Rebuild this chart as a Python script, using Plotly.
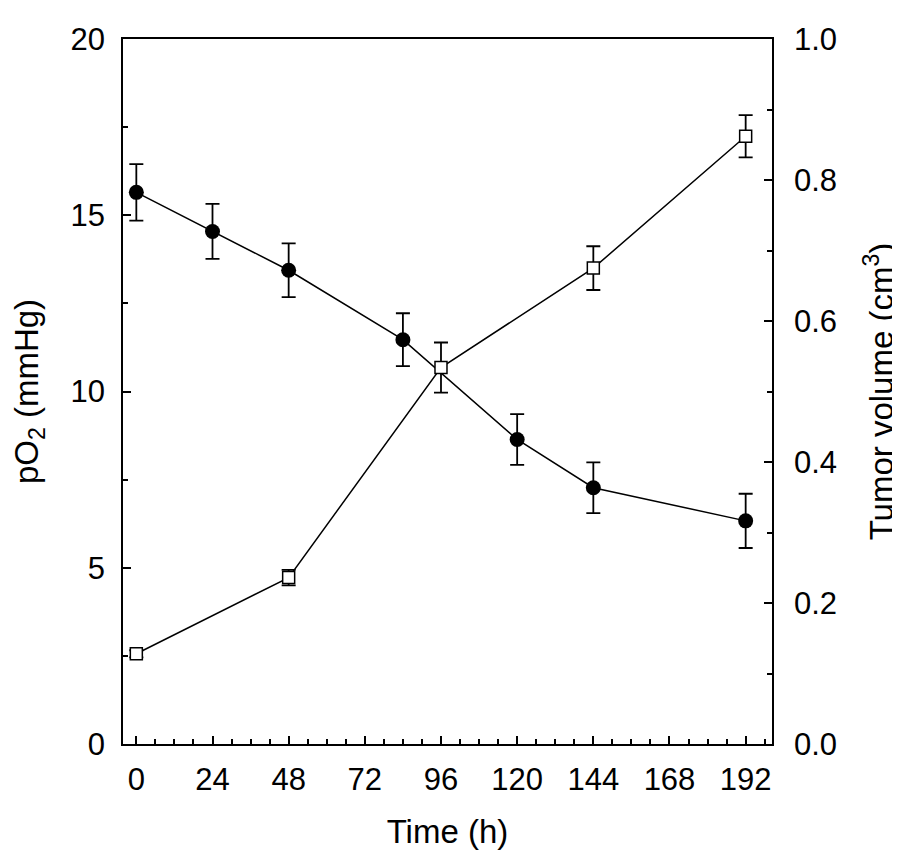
import plotly.graph_objects as go

# Time points (h)
time_po2 = [0, 24, 48, 84, 120, 144, 192]
po2 = [15.65, 14.54, 13.44, 11.47, 8.64, 7.27, 6.33]
po2_err = [0.80, 0.78, 0.76, 0.75, 0.72, 0.72, 0.77]

time_vol = [0, 48, 96, 144, 192]
volume = [0.128, 0.236, 0.534, 0.675, 0.862]
volume_err = [0.005, 0.011, 0.0355, 0.031, 0.030]

x_ticks = [0, 24, 48, 72, 96, 120, 144, 168, 192]

FONT = "Liberation Sans, Arial, sans-serif"

fig = go.Figure()

fig.add_trace(go.Scatter(
    x=time_po2, y=po2, mode="lines+markers", name="pO2",
    line=dict(color="black", width=1.5),
    marker=dict(symbol="circle", size=15, color="black"),
    error_y=dict(type="data", array=po2_err, color="black", thickness=1.8, width=7),
    yaxis="y", showlegend=False,
))

fig.add_trace(go.Scatter(
    x=time_vol, y=volume, mode="lines+markers", name="Tumor volume",
    line=dict(color="black", width=1.5),
    marker=dict(symbol="square", size=12, color="white", line=dict(color="black", width=1.5)),
    error_y=dict(type="data", array=volume_err, color="black", thickness=1.8, width=7),
    yaxis="y2", showlegend=False,
))

axis_common = dict(
    showgrid=False, zeroline=False, showline=True, linecolor="black", linewidth=1.5,
    ticks="inside", tickcolor="black", tickwidth=1.8, ticklen=8,
    tickfont=dict(family=FONT, size=31, color="black"),
    automargin=False,
)

TITLE_FONT = dict(family=FONT, size=33, color="black")

fig.update_layout(
    width=892, height=848,
    margin=dict(l=115, r=128, t=31, b=112),
    paper_bgcolor="white", plot_bgcolor="white",
    font=dict(family=FONT, color="black"),
    xaxis=dict(
        range=[-4.2, 200.3], tickvals=x_ticks, mirror=True,
        minor=dict(dtick=6, tick0=0, ticks="inside", ticklen=5, tickwidth=1.5, tickcolor="black"),
        ticklabelstandoff=7,
        title=dict(text="Time (h)", font=TITLE_FONT, standoff=24),
        **axis_common,
    ),
    yaxis=dict(
        range=[0, 20], dtick=5, tick0=0,
        minor=dict(dtick=2.5, ticks="inside", ticklen=5, tickwidth=1.5, tickcolor="black"),
        ticklabelstandoff=10,
        title=dict(text="pO<sub>2</sub> (mmHg)", font=TITLE_FONT, standoff=27),
        **axis_common,
    ),
    yaxis2=dict(
        range=[0, 1], dtick=0.2, tick0=0, tickformat=".1f",
        overlaying="y", side="right",
        minor=dict(dtick=0.1, ticks="inside", ticklen=5, tickwidth=1.5, tickcolor="black"),
        ticklabelstandoff=14,
        title=dict(text="Tumor volume (cm<sup>3</sup>)", font=TITLE_FONT, standoff=34),
        **axis_common,
    ),
)

fig.write_html("out.html")
